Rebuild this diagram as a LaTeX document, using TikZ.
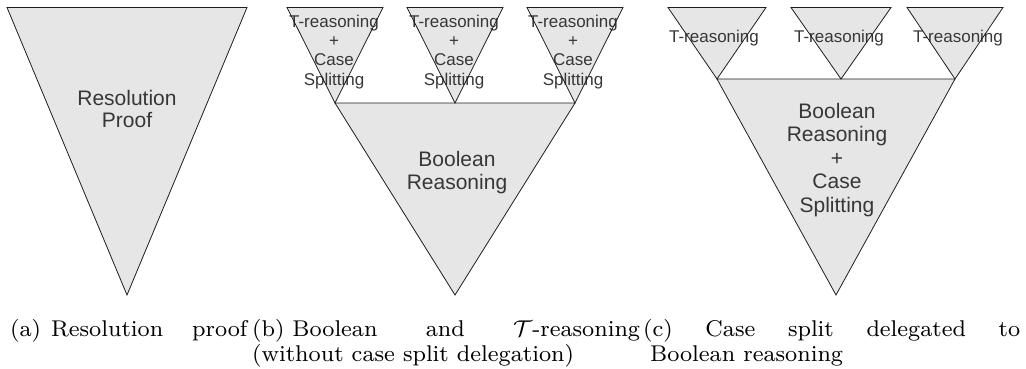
\documentclass[tikz,border=0pt]{standalone}
\usepackage{fontspec}
\usepackage{graphicx}
\newfontfamily\arialf{Liberation Sans}
\definecolor{trifill}{RGB}{230,230,230}
\definecolor{triline}{RGB}{30,30,30}
\definecolor{labgray}{RGB}{55,55,55}
\tikzset{
  tri/.style={draw=triline, line width=0.8pt, line join=miter},
  trifillonly/.style={fill=trifill},
  biglab/.style={font=\arialf\fontsize{21}{21}\selectfont, text=labgray, inner sep=0pt, anchor=base},
  smalllab/.style={font=\arialf\fontsize{17}{19}\selectfont, text=labgray, inner sep=0pt, anchor=base},
  caplab/.style={inner sep=0pt, anchor=base west}
}
\newcommand{\capfont}{\normalfont\fontsize{8}{9}\selectfont}
\newcommand{\capbox}[1]{\scalebox{2.85}{\capfont #1}}
\begin{document}
\begin{tikzpicture}[x=1pt,y=-1pt]
\useasboundingbox (0,0) rectangle (1026,369);
% ---------- fills ----------
\fill[trifillonly] (7,7.5) -- (247,7.5) -- (127,295) -- cycle;
\fill[trifillonly] (287,7.5) -- (383,7.5) -- (335,103) -- cycle;
\fill[trifillonly] (407,7.5) -- (503,7.5) -- (455,103) -- cycle;
\fill[trifillonly] (527,7.5) -- (623,7.5) -- (575,103) -- cycle;
\fill[trifillonly] (335,103) -- (575,103) -- (455,295) -- cycle;
\fill[trifillonly] (668,7.5) -- (766,7.5) -- (717,79) -- cycle;
\fill[trifillonly] (791,7.5) -- (891,7.5) -- (841,79) -- cycle;
\fill[trifillonly] (907,7.5) -- (1003,7.5) -- (955,79) -- cycle;
\fill[trifillonly] (717,79) -- (955,79) -- (836,295) -- cycle;
% ---------- labels (a) ----------
\node[biglab] (a1) at (127,106) {Resolution};
\node[biglab] (a2) at (127,127) {Proof};
% ---------- labels (b) ----------
\foreach \cx/\nm in {334/p,454/q,573/r}{
  \node[smalllab] (b\nm1) at (\cx,28) {T-reasoning};
  \node[smalllab] (b\nm2) at (\cx,47) {+};
  \node[smalllab] (b\nm3) at (\cx,66) {Case};
  \node[smalllab] (b\nm4) at (\cx,85) {Splitting};
}
\node[biglab] (bb1) at (457,166) {Boolean};
\node[biglab] (bb2) at (457,189) {Reasoning};
% ---------- labels (c) ----------
\node[smalllab] (cp) at (714,43) {T-reasoning};
\node[smalllab] (cq) at (839,43) {T-reasoning};
\node[smalllab] (cr) at (958,43) {T-reasoning};
\node[biglab] (cb1) at (837,118) {Boolean};
\node[biglab] (cb2) at (837,141.5) {Reasoning};
\node[biglab] (cb3) at (837,165) {+};
\node[biglab] (cb4) at (837,188.5) {Case};
\node[biglab] (cb5) at (837,212) {Splitting};
% ---------- outlines ----------
\draw[tri] (7,7.5) -- (247,7.5) -- (127,295) -- cycle;
\draw[tri] (287,7.5) -- (383,7.5) -- (335,103) -- cycle;
\draw[tri] (407,7.5) -- (503,7.5) -- (455,103) -- cycle;
\draw[tri] (527,7.5) -- (623,7.5) -- (575,103) -- cycle;
\draw[tri] (335,103) -- (575,103) -- (455,295) -- cycle;
\draw[tri] (668,7.5) -- (766,7.5) -- (717,79) -- cycle;
\draw[tri] (791,7.5) -- (891,7.5) -- (841,79) -- cycle;
\draw[tri] (907,7.5) -- (1003,7.5) -- (955,79) -- cycle;
\draw[tri] (717,79) -- (955,79) -- (836,295) -- cycle;
% ---------- captions ----------
\node[caplab] (capa) at (10,336) {\capbox{\makebox[83.2pt][s]{(a)\hspace{3.5pt}Resolution proof}}};
\node[caplab] (capb1) at (252,336) {\capbox{\makebox[136.1pt][s]{(b)\hspace{2.8pt}Boolean and $\mathcal{T}$-reasoning}}};
\node[caplab] (capb2) at (252,361) {\capbox{(without case split delegation)}};
\node[caplab] (capc1) at (643,336) {\capbox{\makebox[132.3pt][s]{(c) Case split delegated to}}};
\node[caplab] (capc2) at (650,361) {\capbox{Boolean reasoning}};
\end{tikzpicture}
\end{document}
